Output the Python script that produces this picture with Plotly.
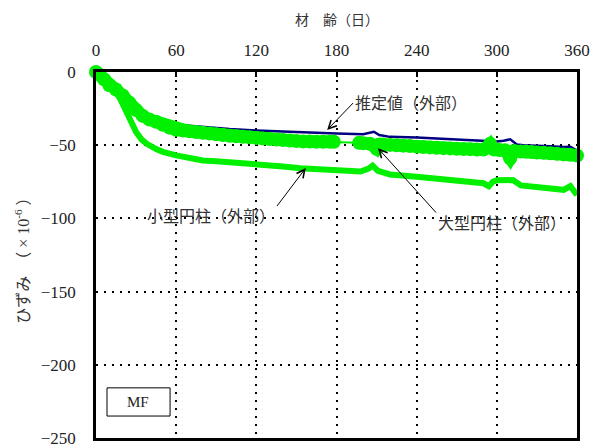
import plotly.graph_objects as go

# ---- data ----
x_ticks = [0, 60, 120, 180, 240, 300, 360]
y_ticks = [0, -50, -100, -150, -200, -250]

est_days = [0, 2, 5, 10, 15, 20, 25, 30, 35, 40, 50, 60, 70, 80, 90, 100, 120, 140,
            160, 180, 200, 205, 208, 212, 220, 240, 260, 280, 300, 305, 310, 315,
            320, 340, 350, 355, 357, 360]
est_vals = [0, -3, -7, -11, -14, -17, -22, -26, -29.5, -32, -34.5, -36, -36.8, -37.5,
            -38.2, -39, -40, -40.8, -41.5, -42, -42.5, -41.5, -40.8, -43, -44.3, -44.8,
            -45.6, -46.5, -47.5, -47, -46, -49.5, -50, -50.7, -51.3, -51, -52, -53.7]

large_days = [0, 3, 6, 10, 15, 20, 25, 30, 35, 40, 45, 50, 55, 60, 65, 70, 75, 80, 85,
              90, 95, 100, 105, 110, 115, 120, 125, 130, 135, 140, 145, 150, 155, 160,
              165, 170, 175, 178, 187, 197, 200, 205, 210, 212, 215, 220, 225, 230, 235,
              240, 245, 250, 255, 260, 265, 270, 275, 280, 285, 290, 295, 298, 302, 306,
              310, 313, 318, 322, 326, 330, 335, 340, 345, 350, 355, 360]
large_vals = [0, -2, -5, -9, -12, -16, -21, -26, -30, -32.5, -34, -36, -38, -39.5, -40,
              -40.5, -41, -41.5, -42, -42.5, -43, -43.5, -43.9, -44.3, -44.6, -45, -45.4,
              -45.8, -46.1, -46.5, -46.8, -47.2, -47.4, -47.5, -47.6, -47.6, -47.6, -47.6,
              -47.9, -48.3, -48.6, -49, -52.5, -49.5, -49.6, -49.8, -50, -50.3, -50.6,
              -51, -51.2, -51.5, -51.7, -52, -52.2, -52.5, -52.6, -52.7, -52.9, -53,
              -49, -53, -53.3, -53.5, -59, -54, -54.3, -54.5, -54.7, -55, -55.2, -55.5,
              -55.9, -56.3, -56.6, -57]

small_days = [0, 3, 6, 10, 15, 18, 20, 23, 26, 30, 34, 38, 45, 50, 60, 70, 80, 90, 100,
              120, 140, 153, 170, 180, 198, 204, 207, 211, 220, 240, 260, 280, 290, 294,
              297, 300, 308, 312, 318, 325, 340, 350, 355, 358, 360]
small_vals = [0, -2, -5, -9, -13, -18, -22, -29, -35, -41, -46, -49, -52.6, -54.5, -57,
              -59, -60.5, -61, -61.5, -63, -64.5, -65.8, -66.5, -67, -68, -66, -64, -67.5,
              -70, -71.5, -73, -75, -76, -78, -75, -74, -73.8, -73.8, -77.5, -78.3, -79.5,
              -80.5, -78, -81.5, -84]

gap_start, gap_end = 178, 197  # sparse section of the large-cylinder record

FONT = "'Liberation Serif', 'Noto Sans CJK JP', serif"
GREEN = "#00f000"
NAVY = "#000080"

fig = go.Figure()

fig.add_trace(go.Scatter(x=est_days, y=est_vals, mode="lines",
                         line=dict(color=NAVY, width=2.5), showlegend=False))
fig.add_trace(go.Scatter(x=small_days, y=small_vals, mode="lines",
                         line=dict(color=GREEN, width=6), showlegend=False))

# thin connection through the whole large-cylinder record
fig.add_trace(go.Scatter(x=large_days, y=large_vals, mode="lines",
                         line=dict(color=GREEN, width=2), showlegend=False))
seg1 = [(d, v) for d, v in zip(large_days, large_vals) if d <= gap_start]
seg2 = [(d, v) for d, v in zip(large_days, large_vals) if d >= gap_end]
for seg in (seg1, seg2):
    fig.add_trace(go.Scatter(x=[s[0] for s in seg], y=[s[1] for s in seg],
                             mode="lines+markers",
                             line=dict(color=GREEN, width=12),
                             marker=dict(color=GREEN, size=14),
                             showlegend=False, cliponaxis=False))

grid_dash = "2px,6px"
fig.update_xaxes(range=[0, 360], tickvals=x_ticks, side="top", automargin=False,
                 showgrid=True, gridcolor="black", gridwidth=2, griddash=grid_dash,
                 showline=True, linecolor="black", linewidth=2.5, mirror=True,
                 ticks="inside", ticklen=5, tickcolor="black", tickwidth=1.5,
                 zeroline=False, ticklabelstandoff=6,
                 tickfont=dict(family=FONT, size=17, color="#222"))
fig.update_yaxes(range=[-250, 0], tickvals=y_ticks, automargin=False,
                 showgrid=True, gridcolor="black", gridwidth=2, griddash=grid_dash,
                 showline=True, linecolor="black", linewidth=2.5, mirror=True,
                 ticks="", zeroline=False, ticklabelstandoff=14,
                 tickfont=dict(family=FONT, size=17, color="#222"))

ann_font = dict(family=FONT, size=16, color="#333")
arrow_style = dict(showarrow=True, arrowhead=5, arrowsize=1.6, arrowwidth=1,
                   arrowcolor="black", axref="x", ayref="y", font=ann_font)
annotations = [
    # axis titles
    dict(text="材　齢（日）", xref="paper", yref="paper", x=0.5, y=1.142,
         xanchor="center", yanchor="middle", showarrow=False,
         font=dict(family=FONT, size=14, color="#333")),
    dict(text="ひずみ　（ × 10<sup>-6</sup> ）", xref="paper", yref="paper",
         x=-0.154, y=0.495, xanchor="center", yanchor="middle", textangle=-90,
         showarrow=False, font=dict(family=FONT, size=16, color="#333")),
    # labels with arrows (text anchored at the arrow tail)
    dict(text="推定値（外部）", x=173, y=-39.6, ax=192.4, ay=-21.2,
         xanchor="left", yanchor="middle", **arrow_style),
    dict(text="小型円柱（外部）", x=157, y=-65.6, ax=135.5, ay=-91.5,
         xanchor="right", yanchor="top", **arrow_style),
    dict(text="大型円柱（外部）", x=211, y=-52, ax=254.5, ay=-96,
         xanchor="left", yanchor="top", **arrow_style),
    # MF box label
    dict(text="MF", xref="paper", yref="paper", x=0.088, y=0.0985,
         xanchor="center", yanchor="middle", showarrow=False,
         font=dict(family=FONT, size=15, color="#222")),
]

fig.update_layout(
    width=595, height=448,
    margin=dict(l=96, r=18, t=72, b=10),
    paper_bgcolor="white", plot_bgcolor="white",
    annotations=annotations,
    shapes=[dict(type="rect", xref="paper", yref="paper",
                 x0=0.0229, x1=0.154, y0=0.060, y1=0.137,
                 line=dict(color="black", width=1), fillcolor="white")],
)

fig.write_html("out.html", config={"displayModeBar": False},
               post_script="document.body.style.margin='0';document.body.style.overflow='hidden';")
